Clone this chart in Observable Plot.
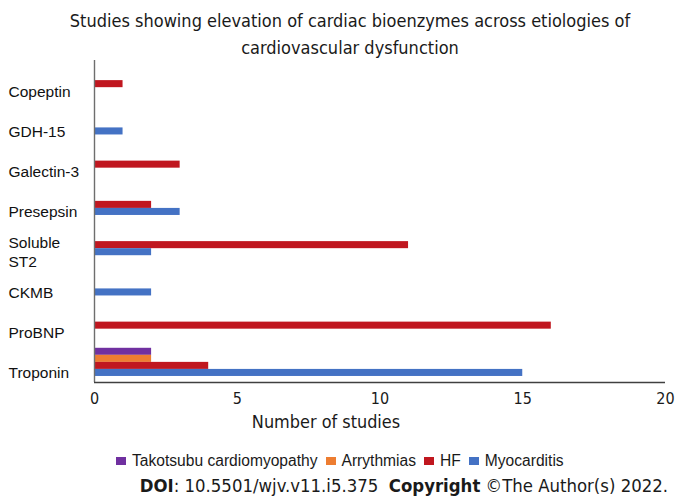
<!DOCTYPE html>
<html>
<head>
<meta charset="utf-8">
<script src="https://cdn.jsdelivr.net/npm/d3@7"></script>
<script src="https://cdn.jsdelivr.net/npm/@observablehq/plot@0.6"></script>
<style>
  html, body { margin: 0; padding: 0; background: #fff; }
  body { width: 678px; height: 499px; position: relative; overflow: hidden; }
  .cond { font-family: "DejaVu Sans Condensed", "DejaVu Sans"; font-stretch: condensed; }
  #title { position: absolute; left: 11px; top: 7px; width: 678px; text-align: center;
    font-size: 18px; line-height: 27px; color: #1a1a1a; }
  #chart { position: absolute; left: 0; top: 56px; }
  #legend { position: absolute; left: 116px; top: 452px; height: 18px; display: flex; align-items: center;
    font-family: "Liberation Sans"; font-size: 15.6px; color: #1a1a1a; white-space: nowrap; }
  #legend .item { display: flex; align-items: center; margin-right: 8px; }
  #legend .sw { width: 10px; height: 8px; margin-right: 6px; }
  #doi { position: absolute; right: 10px; top: 475px; font-size: 18.4px;
    color: #1a1a1a; white-space: pre; }
</style>
</head>
<body>
<div id="title" class="cond">Studies showing elevation of cardiac bioenzymes across etiologies of<br>cardiovascular dysfunction</div>
<div id="chart"></div>
<div id="legend"></div>
<div id="doi" class="cond"><b>DOI</b>: 10.5501/wjv.v11.i5.375  <b>Copyright</b> ©The Author(s) 2022.</div>
<script>
const categories = ["Copeptin", "GDH-15", "Galectin-3", "Presepsin", "Soluble ST2", "CKMB", "ProBNP", "Troponin"];
const series = ["Takotsubu cardiomyopathy", "Arrythmias", "HF", "Myocarditis"];
const seriesColors = ["#7030A0", "#ED7D31", "#C0171F", "#4472C4"];
const takotsubu = [0, 0, 0, 0, 0, 0, 0, 2];
const arrythmias = [0, 0, 0, 0, 0, 0, 0, 2];
const hf = [1, 0, 3, 2, 11, 0, 16, 4];
const myocarditis = [0, 1, 0, 3, 2, 2, 0, 15];
const xTicks = [0, 5, 10, 15, 20];

const seriesValues = [takotsubu, arrythmias, hf, myocarditis];
const rows = [];
categories.forEach((c, ci) => {
  series.forEach((s, si) => {
    const v = seriesValues[si][ci];
    if (v > 0) rows.push({category: c, ci, series: s, si, value: v});
  });
});

const groupWidth = 0.7;          // fraction of a category band filled by the bar group
const barWidth = groupWidth / series.length;
const condFont = "DejaVu Sans Condensed, DejaVu Sans";

const chart = Plot.plot({
  width: 678,
  height: 385,
  marginLeft: 94,
  marginRight: 13,
  marginTop: 4,
  marginBottom: 59,
  style: {fontFamily: condFont, fontSize: "16px", color: "#1a1a1a", background: "transparent", fontStretch: "condensed"},
  x: {domain: [0, 20], ticks: xTicks, label: null},
  y: {domain: [-0.5, categories.length - 0.5], reverse: true, axis: null},
  color: {domain: series, range: seriesColors},
  marks: [
    Plot.rect(rows, {
      x1: () => 0,
      x2: "value",
      y1: d => d.ci - groupWidth / 2 + d.si * barWidth,
      y2: d => d.ci - groupWidth / 2 + (d.si + 1) * barWidth,
      fill: "series"
    }),
    Plot.ruleX([0], {stroke: "#6e6e6e", strokeWidth: 1.4}),
    Plot.ruleY([categories.length - 0.5], {stroke: "#404040", strokeWidth: 1.4}),
    Plot.axisX({ticks: xTicks, tickSize: 0, tickPadding: 10, label: null, fontSize: 16, fill: "#1a1a1a"}),
    Plot.text(categories, {
      y: (d, i) => i,
      text: d => d.replace(" ", "\n"),
      frameAnchor: "left",
      textAnchor: "start",
      dx: -86,
      dy: 10,
      lineHeight: 1.2,
      fontFamily: "Liberation Sans",
      fontSize: 15.5,
      fill: "#111"
    }),
    Plot.text(["Number of studies"], {
      frameAnchor: "bottom",
      dx: -54,
      dy: 45,
      fontSize: 17.9,
      fill: "#1a1a1a"
    })
  ]
});
document.getElementById("chart").appendChild(chart);

const legend = document.getElementById("legend");
series.forEach((s, i) => {
  const item = document.createElement("div");
  item.className = "item";
  const sw = document.createElement("div");
  sw.className = "sw";
  sw.style.background = seriesColors[i];
  const label = document.createElement("span");
  label.textContent = s;
  item.appendChild(sw);
  item.appendChild(label);
  legend.appendChild(item);
});
</script>
</body>
</html>
